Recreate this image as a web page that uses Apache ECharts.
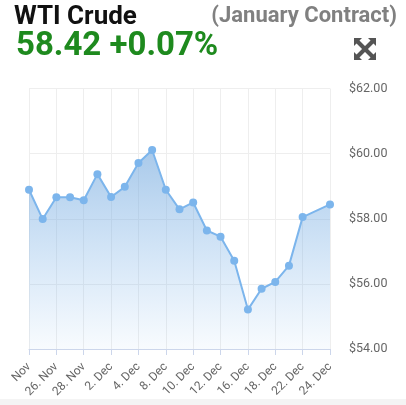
<!DOCTYPE html>
<html>
<head>
<meta charset="utf-8">
<script src="https://cdn.jsdelivr.net/npm/echarts@6/dist/echarts.min.js"></script>
<style>
html,body{margin:0;padding:0;background:#fff;}
#c{width:406px;height:405px;}
</style>
</head>
<body>
<div id="c"></div>
<script>
const categories = ["Nov","25. Nov","26. Nov","27. Nov","28. Nov","29. Nov","2. Dec","3. Dec","4. Dec","5. Dec","8. Dec","9. Dec","10. Dec","11. Dec","12. Dec","13. Dec","16. Dec","17. Dec","18. Dec","19. Dec","22. Dec","23. Dec","24. Dec"];
const prices = [58.89,57.99,58.66,58.66,58.57,59.37,58.67,58.98,59.71,60.11,58.89,58.29,58.50,57.64,57.45,56.71,55.21,55.85,56.06,56.56,58.05,null,58.44];
const yTicks = [54,56,58,60,62];
const titleText = "WTI Crude";
const subtitleText = "(January Contract)";
const priceText = "58.42 +0.07%";

const chart = echarts.init(document.getElementById('c'));
const F = 'Roboto, "Noto Sans", sans-serif';
chart.setOption({
  animation:false,
  backgroundColor:'#fff',
  grid:{left:29,right:76,top:88.5,bottom:56},
  xAxis:{
    type:'category',
    data:categories,
    boundaryGap:false,
    axisLine:{lineStyle:{color:'#ccd6eb',width:1}},
    axisTick:{show:true,interval:1,length:6,lineStyle:{color:'#ccd6eb'}},
    axisLabel:{interval:1,rotate:45,color:'#666',fontSize:12,fontFamily:F,margin:16},
    splitLine:{show:true,interval:1,lineStyle:{color:'#eeeeee',width:1}}
  },
  yAxis:{
    type:'value',
    position:'right',
    min:yTicks[0],max:yTicks[yTicks.length-1],interval:2,
    axisLine:{show:false},axisTick:{show:false},
    axisLabel:{color:'#666',fontSize:12.5,fontFamily:F,margin:19,formatter:v=>'$'+v.toFixed(2)},
    splitLine:{lineStyle:{color:'#eeeeee',width:1}}
  },
  series:[{
    type:'line',
    data:prices,
    connectNulls:true,
    symbol:'circle',
    symbolSize:8,
    lineStyle:{color:'#7cb5ec',width:2},
    itemStyle:{color:'#7cb5ec'},
    areaStyle:{color:new echarts.graphic.LinearGradient(0,0,0,1,[
      {offset:0,color:'rgba(110,165,220,0.85)'},
      {offset:1,color:'rgba(124,181,236,0.08)'}
    ])}
  }],
  graphic:[
    {type:'rect',shape:{x:0,y:399,width:406,height:6},style:{fill:'#f4f4f4'},silent:true},
    {type:'text',x:14,y:17,style:{text:titleText,font:'bold 26px '+F,fill:'#111',verticalAlign:'middle'}},
    {type:'text',x:397,y:16,style:{text:subtitleText,font:'bold 22px '+F,fill:'#808080',align:'right',verticalAlign:'middle'}},
    {type:'text',x:16,y:47,style:{text:priceText,font:'bold 33px '+F,fill:'#1e8a1e',verticalAlign:'middle'}},
    {type:'group',x:365,y:49,children:[
      {type:'line',shape:{x1:-8,y1:-8,x2:8,y2:8},style:{stroke:'#555',lineWidth:4}},
      {type:'line',shape:{x1:8,y1:-8,x2:-8,y2:8},style:{stroke:'#555',lineWidth:4}},
      {type:'polygon',shape:{points:[[-11,-11],[-3,-11],[-11,-3]]},style:{fill:'#555'}},
      {type:'polygon',shape:{points:[[11,-11],[3,-11],[11,-3]]},style:{fill:'#555'}},
      {type:'polygon',shape:{points:[[-11,11],[-3,11],[-11,3]]},style:{fill:'#555'}},
      {type:'polygon',shape:{points:[[11,11],[3,11],[11,3]]},style:{fill:'#555'}}
    ]}
  ]
});
</script>
</body>
</html>
